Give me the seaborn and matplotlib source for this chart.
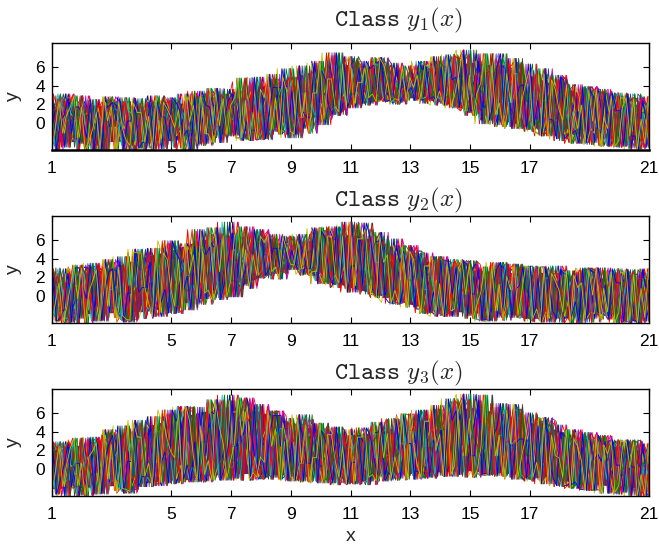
import numpy as np
import pandas as pd
import seaborn as sns
import matplotlib
matplotlib.use("Agg")
import matplotlib.pyplot as plt

x_ticks = [1, 5, 7, 9, 11, 13, 15, 17, 21]
y_ticks = [0, 2, 4, 6]
titles = [r"$\mathtt{Class}\ y_1(x)$", r"$\mathtt{Class}\ y_2(x)$", r"$\mathtt{Class}\ y_3(x)$"]

# solid core of each class at x = 1..21
whole_x = list(range(1, 22))
class1_top = [1.7,1.9,1.9,1.8,1.9,2.5,3.3,3.9,4.8,5.8,6.3,5.9,5.0,5.7,6.5,6.1,5.1,3.9,2.9,2.2,1.8]
class1_bottom = [-2.0,-2.0,-2.0,-1.8,-1.9,-1.5,-0.9,-0.7,-0.3,0.9,2.0,2.4,2.7,2.3,1.3,0.3,-0.4,-1.1,-1.5,-1.8,-1.9]
class2_top = [1.9,2.3,3.0,4.1,4.9,6.0,6.6,6.0,5.5,6.1,6.6,5.8,4.4,3.2,2.8,2.6,2.3,2.1,1.9,1.9,1.8]
class2_bottom = [-2.0,-1.9,-1.8,-1.7,-1.2,-0.2,0.6,2.1,3.1,1.9,0.9,0.1,-0.9,-1.5,-1.8,-1.9,-2.0,-2.0,-2.0,-2.0,-2.0]
class3_top = [1.9,2.6,3.4,4.4,5.3,6.1,6.7,6.1,5.0,4.1,3.6,4.0,4.9,5.9,6.6,6.0,5.0,4.1,3.0,2.3,1.9]
class3_bottom = [-2.1,-2.0,-1.8,-1.5,-1.2,-0.8,-0.5,-0.5,-0.7,-0.9,-1.0,-0.7,-0.5,-0.3,-0.2,-0.4,-0.7,-1.2,-1.6,-1.9,-2.1]

# curves, one value every half x step
class1_a = [-0.9,1.7,0.8,-1.9,2.5,0.2,-2.1,0.7,2.4,-0.8,0.6,2.9,-1.3,2.4,1.1,-0.7,3.4,0.9,4.7,1.7,3.1,5.8,2.8,4.4,3.3,5.1,2.8,4.6,1.3,5.4,2.1,3.9,-0.3,2.9,1.4,-1.2,2.7,-0.6,1.6,-1.4,1.1]
class1_b = [2.1,0.3,-1.6,2.5,-0.4,1.3,-2.7,1.8,-0.5,2.2,-1.1,3.7,0.4,-1.6,3.6,1.2,-1.6,4.6,2.2,0.9,6.3,2.7,5.2,2.2,4.9,2.6,6.0,1.7,5.1,3.2,-0.4,5.3,2.3,-1.4,3.6,-0.6,1.9,3.4,-1.9,2.2,0.4]
class1_c = [-1.3,3.1,0.4,-2.8,2.2,-0.6,-3.1,2.9,0.6,-2.7,1.9,-2.1,3.1,0.8,-1.8,5.2,0.2,-1.1,6.6,1.2,5.4,2.1,6.9,2.6,4.4,6.6,2.3,7.1,3.1,-0.1,7.4,1.1,-0.9,5.8,0.3,-2.2,3.9,0.6,-2.6,3.1,-1.2]
class1_d = [-2.4,2.6,-2.9,1.9,-3.1,2.7,-1.8,2.2,-2.6,3.1,-2.2,3.4,-1.4,4.4,-1.7,4.7,-1.2,6.1,0.4,7.2,1.6,6.6,2.3,5.9,2.4,6.2,1.9,6.9,1.1,7.4,-0.2,6.5,-0.7,5.2,-1.7,4.1,-2.1,3.2,-2.5,2.7,-2.6]
class1_e = [0.6,2.3,-2.2,1.1,2.8,-2.9,0.9,2.4,-1.7,1.4,3.4,-1.2,1.9,4.8,-0.8,2.7,5.8,0.6,3.2,7.5,2.4,5.9,3.1,6.4,2.9,5.7,3.4,7.3,2.2,6.6,0.9,6.9,1.6,-1.1,4.9,1.2,-2.3,3.6,1.1,-2.7,1.8]
class1_f = [1.2,-1.1,2.9,-0.7,1.6,-2.4,2.1,0.3,2.7,-1.4,3.2,-0.3,2.6,0.2,4.9,-0.9,3.9,1.2,5.6,2.7,6.9,3.4,7.0,3.1,6.1,3.6,7.1,2.9,7.8,1.7,6.1,2.2,6.3,0.4,5.1,-0.8,3.8,-1.1,3.2,-0.9,2.8]
class1_g = [2.9,-2.6,2.4,-3.2,1.8,-1.9,2.6,-2.8,1.5,-3.1,2.8,-1.6,3.6,-1.8,4.2,-1.2,4.9,-0.6,6.4,0.8,7.1,1.9,6.2,2.4,5.4,2.1,6.6,1.6,7.3,0.3,6.8,-0.6,5.6,-1.3,4.6,-2.1,3.5,-2.4,2.9,-2.8,2.4]
class1_h = [-2.9,0.8,1.7,-2.5,0.2,2.3,1.1,-2.3,2.2,0.1,-2.4,1.7,2.4,-1.9,2.7,3.8,-0.9,3.3,-0.2,4.7,1.8,4.3,6.5,2.0,3.8,6.1,2.1,4.9,0.8,4.2,5.9,-0.4,4.1,2.4,-1.9,2.8,0.2,-2.5,1.3,2.6,-2.2]

class2_a = [0.7,-1.4,2.2,0.4,-1.8,3.1,0.9,-1.2,3.9,0.6,-0.3,5.2,1.4,4.9,2.2,5.1,3.3,5.6,2.4,5.9,1.8,6.1,0.9,4.4,-0.6,3.2,0.4,-1.4,2.6,0.3,-1.6,2.1,-0.4,1.7,-1.7,2.2,0.1,-2.1,1.4,-0.7,1.9]
class2_b = [-1.6,2.4,-0.3,1.6,2.9,-2.1,1.7,3.6,-1.1,4.8,0.3,2.6,6.4,0.8,5.7,2.6,4.9,2.9,6.2,1.2,3.4,6.3,-0.2,3.6,4.4,-1.4,1.3,3.2,-2.1,1.8,2.9,-1.9,0.4,2.4,-2.4,0.9,2.5,-1.7,0.2,2.3,-2.3]
class2_c = [2.6,-2.9,0.9,3.2,-2.3,1.1,4.6,-2.2,0.7,5.6,-0.9,6.6,1.6,6.8,1.9,6.1,2.8,6.6,1.6,7.2,0.8,7.1,0.1,5.4,-1.2,4.1,-1.9,3.6,-2.4,3.1,-2.6,3.4,-2.4,3.1,-2.8,2.6,-2.8,2.7,-2.9,2.8,-2.7]
class2_d = [-2.7,1.4,3.0,-2.6,3.6,-2.5,0.4,5.1,-1.8,2.4,6.9,-0.4,3.8,7.4,2.3,6.6,3.4,3.1,6.9,2.2,7.6,1.1,6.4,0.6,5.2,-1.8,3.8,0.2,3.7,-2.5,1.2,3.4,-2.7,2.9,0.6,-2.9,2.8,0.8,-2.8,2.6,0.3]
class2_e = [1.4,2.9,-2.4,2.8,-1.1,4.2,-2.4,3.1,5.6,-1.5,4.4,7.3,-0.1,4.6,7.1,2.9,6.3,4.7,1.3,6.4,3.2,7.8,-0.1,6.1,1.7,4.6,-2.1,2.9,1.1,-2.6,3.5,0.7,-2.4,1.9,3.2,-2.2,1.4,3.0,-1.8,0.9,2.8]
class2_f = [0.2,-2.8,3.1,-1.2,3.9,0.3,5.0,-0.7,5.9,2.1,7.1,0.6,7.9,1.9,4.4,3.1,5.7,2.3,7.3,1.4,6.4,2.7,6.8,-0.8,3.9,0.7,4.2,-1.6,3.4,-0.9,3.6,-2.3,3.2,-1.4,2.8,-0.6,3.0,-1.9,2.5,-2.6,1.7]
class2_g = [3.0,-2.4,3.3,-2.7,2.6,-2.8,4.7,-1.9,4.6,-1.3,5.3,-0.2,6.7,1.1,6.9,2.4,6.4,2.2,7.2,0.9,7.9,0.2,5.8,-0.9,5.4,-1.9,4.2,-2.2,3.8,-2.7,3.2,-2.1,3.1,-2.8,2.4,-2.6,2.9,-2.5,2.7,-3.0,2.9]
class2_h = [-2.2,0.9,-2.9,3.5,0.7,-2.6,2.8,0.4,-1.9,3.9,1.3,5.8,-0.1,3.6,6.4,1.8,3.7,5.9,2.6,7.4,0.4,4.9,3.6,-0.7,4.8,1.9,-2.2,3.9,0.2,2.9,-2.3,1.1,3.1,-2.6,1.6,2.7,-2.4,1.2,2.9,-2.8,0.8]

class3_a = [1.2,-1.9,0.6,2.8,-1.4,1.9,-0.8,3.9,1.2,-1.1,4.6,0.9,2.7,5.1,-0.4,3.2,4.3,0.6,3.1,-0.9,2.4,3.6,-0.6,1.3,4.1,0.4,3.7,5.2,0.8,4.9,1.4,3.2,-0.6,2.9,3.6,-1.4,0.9,2.6,-1.8,1.2,-0.6]
class3_b = [-2.1,2.4,-0.7,1.3,3.6,-2.2,3.2,0.6,5.1,-1.1,2.9,5.9,0.2,6.1,1.3,-0.9,4.9,1.9,-1.2,3.7,0.7,-1.3,3.9,1.6,-0.7,5.1,1.9,6.2,3.4,-0.5,5.8,2.7,-0.9,4.6,1.4,-1.7,3.1,-1.1,2.4,0.7,-2.4]
class3_c = [2.7,-2.9,3.1,-2.6,4.2,-2.4,4.9,-1.8,5.9,-1.4,6.6,-0.9,7.3,-1.2,6.7,-1.1,5.4,-1.4,4.9,-1.7,4.2,-1.7,4.6,-1.2,5.7,-0.9,6.4,-0.8,7.4,-0.7,6.6,-1.1,5.8,-1.6,4.7,-2.1,3.7,-2.6,3.1,-2.9,2.6]
class3_d = [-2.7,2.9,-2.9,3.4,-2.3,4.6,-1.9,5.6,-1.5,6.2,-1.3,7.1,-1.0,7.4,-1.1,6.2,-1.2,5.3,-1.5,4.5,-1.6,4.4,-1.3,5.3,-1.1,6.3,-0.7,7.2,-0.9,7.3,-0.8,6.3,-1.3,5.4,-1.8,4.2,-2.3,3.5,-2.7,3.0,-2.9]
class3_e = [0.4,2.6,-1.8,3.2,1.1,-2.6,5.2,0.9,-1.6,6.7,1.4,-1.2,7.9,2.1,-0.9,5.7,1.6,-1.3,4.1,0.9,-1.4,4.2,1.2,-1.0,5.9,2.3,-0.8,7.5,2.6,-0.6,7.0,2.4,-1.1,5.5,1.2,-2.0,3.9,0.8,-2.5,2.9,0.6]
class3_f = [1.9,-1.2,3.3,-0.4,3.9,0.8,-1.9,4.7,1.8,6.6,0.2,7.4,2.4,5.9,0.7,6.2,2.9,4.7,0.3,4.4,2.1,3.4,0.8,5.4,2.7,6.2,3.1,6.9,1.4,7.9,3.6,6.9,3.2,5.1,-0.9,4.1,0.9,3.6,-0.7,3.1,1.6]
class3_g = [-1.7,2.2,0.3,-2.7,2.6,-2.1,3.4,-0.9,6.3,0.4,-1.4,6.1,0.9,7.6,-0.6,4.3,-1.3,5.8,1.2,-1.5,3.6,-0.9,5.0,-0.4,2.7,-1.0,6.8,0.3,8.0,-0.2,4.4,-0.9,6.0,0.7,-1.9,3.2,-2.3,2.9,0.4,-2.8,2.7]
class3_h = [2.9,0.4,-2.8,1.9,-1.1,4.3,1.7,-1.5,3.1,5.1,-0.6,4.4,-1.2,3.6,6.9,2.4,-0.8,3.4,4.8,1.6,-1.6,2.9,-1.1,3.8,5.8,-0.3,4.2,-0.6,5.4,2.1,-0.7,6.4,1.4,-1.2,3.9,2.4,-2.2,1.6,3.0,0.2,-2.8]

class1 = [class1_a, class1_b, class1_c, class1_d, class1_e, class1_f, class1_g, class1_h]
class2 = [class2_a, class2_b, class2_c, class2_d, class2_e, class2_f, class2_g, class2_h]
class3 = [class3_a, class3_b, class3_c, class3_d, class3_e, class3_f, class3_g, class3_h]
tops_of_core = [class1_top, class2_top, class3_top]
bottoms_of_core = [class1_bottom, class2_bottom, class3_bottom]

line_colors = [(.25, .25, .25), (.75, .75, 0), (0, .75, .75), (0, .5, 0), (.75, 0, .75), (1, 0, 0), (0, 0, 1), (1, 0, 0)]
# the fine spikes go up and down through the values read at each half step
high_ranks = [5, 7, 4, 6, 2, 6, 5, 3, 7, 5, 3]
low_ranks = [2, 0, 3, 1, 5, 2, 0, 1, 4, 2, 0, 4, 1]
nudge = [0.0, 0.09, 0.17, 0.04, 0.13, 0.21, 0.07, 0.19, 0.11, 0.02, 0.15, 0.23]
n_drawn = 36

sns.set_theme(style="ticks", rc={
    "font.family": ["Liberation Sans", "DejaVu Sans"],
    "mathtext.fontset": "cm",
    "axes.edgecolor": "black",
    "axes.linewidth": 1.0,
    "xtick.direction": "in",
    "ytick.direction": "in",
    "xtick.top": True,
    "ytick.right": True,
    "xtick.color": "black",
    "ytick.color": "black",
})

fig = plt.figure(figsize=(6.59, 5.45), dpi=100)
panel_tops = [43, 216, 389]
title_y = [1.157, 1.087, 1.087]

for i, curves in enumerate([class1, class2, class3]):
    ax = fig.add_axes([52 / 659, 1 - (panel_tops[i] + 107) / 545, 597 / 659, 107 / 545])
    ax.fill_between(whole_x, bottoms_of_core[i], tops_of_core[i], color=(0.5, 0.08, 0.4), lw=0)
    size = min(len(c) for c in curves)
    at_step = [sorted(c[j] for c in curves) for j in range(size)]
    fine = (size - 1) * 4 + 1
    rows = []
    palette = {}
    for c in range(n_drawn):
        ys = []
        for k in range(fine):
            j = min((k + c % 4) // 4, size - 1)
            if (k + c) % 2 == 0:
                ys.append(at_step[j][high_ranks[(k // 2 + c * 3) % len(high_ranks)]])
            else:
                ys.append(at_step[j][low_ranks[(k // 2 + c * 5) % len(low_ranks)]])
        xs = np.linspace(1, 21, fine) + nudge[c % len(nudge)] - 0.12
        xs[0] = 1
        xs[-1] = 21
        palette[c] = line_colors[(c * 3) % 8]
        rows.append(pd.DataFrame({"x": xs, "y": ys, "curve": c}))
    df = pd.concat(rows)
    sns.lineplot(data=df, x="x", y="y", hue="curve", palette=palette, units="curve",
                 estimator=None, sort=False, legend=False, linewidth=0.6, ax=ax)
    ax.set_xlim(1, 21)
    ax.set_ylim(-2.9, 8.55)
    ax.set_xticks(x_ticks)
    ax.set_yticks(y_ticks)
    ax.tick_params(axis="y", length=4, width=0.8, labelsize=12.5, pad=5)
    ax.tick_params(axis="x", length=4, width=0.8, labelsize=12.5, pad=8)
    ax.set_ylabel("y", fontsize=14, labelpad=10)
    ax.set_xlabel("x" if i == 2 else "", fontsize=14, labelpad=4)
    ax.set_title(titles[i], x=0.58, y=title_y[i], fontsize=18, pad=0)
    if i == 0:
        ax.spines["bottom"].set_linewidth(1.8)

fig.savefig("out.png", dpi=100)
